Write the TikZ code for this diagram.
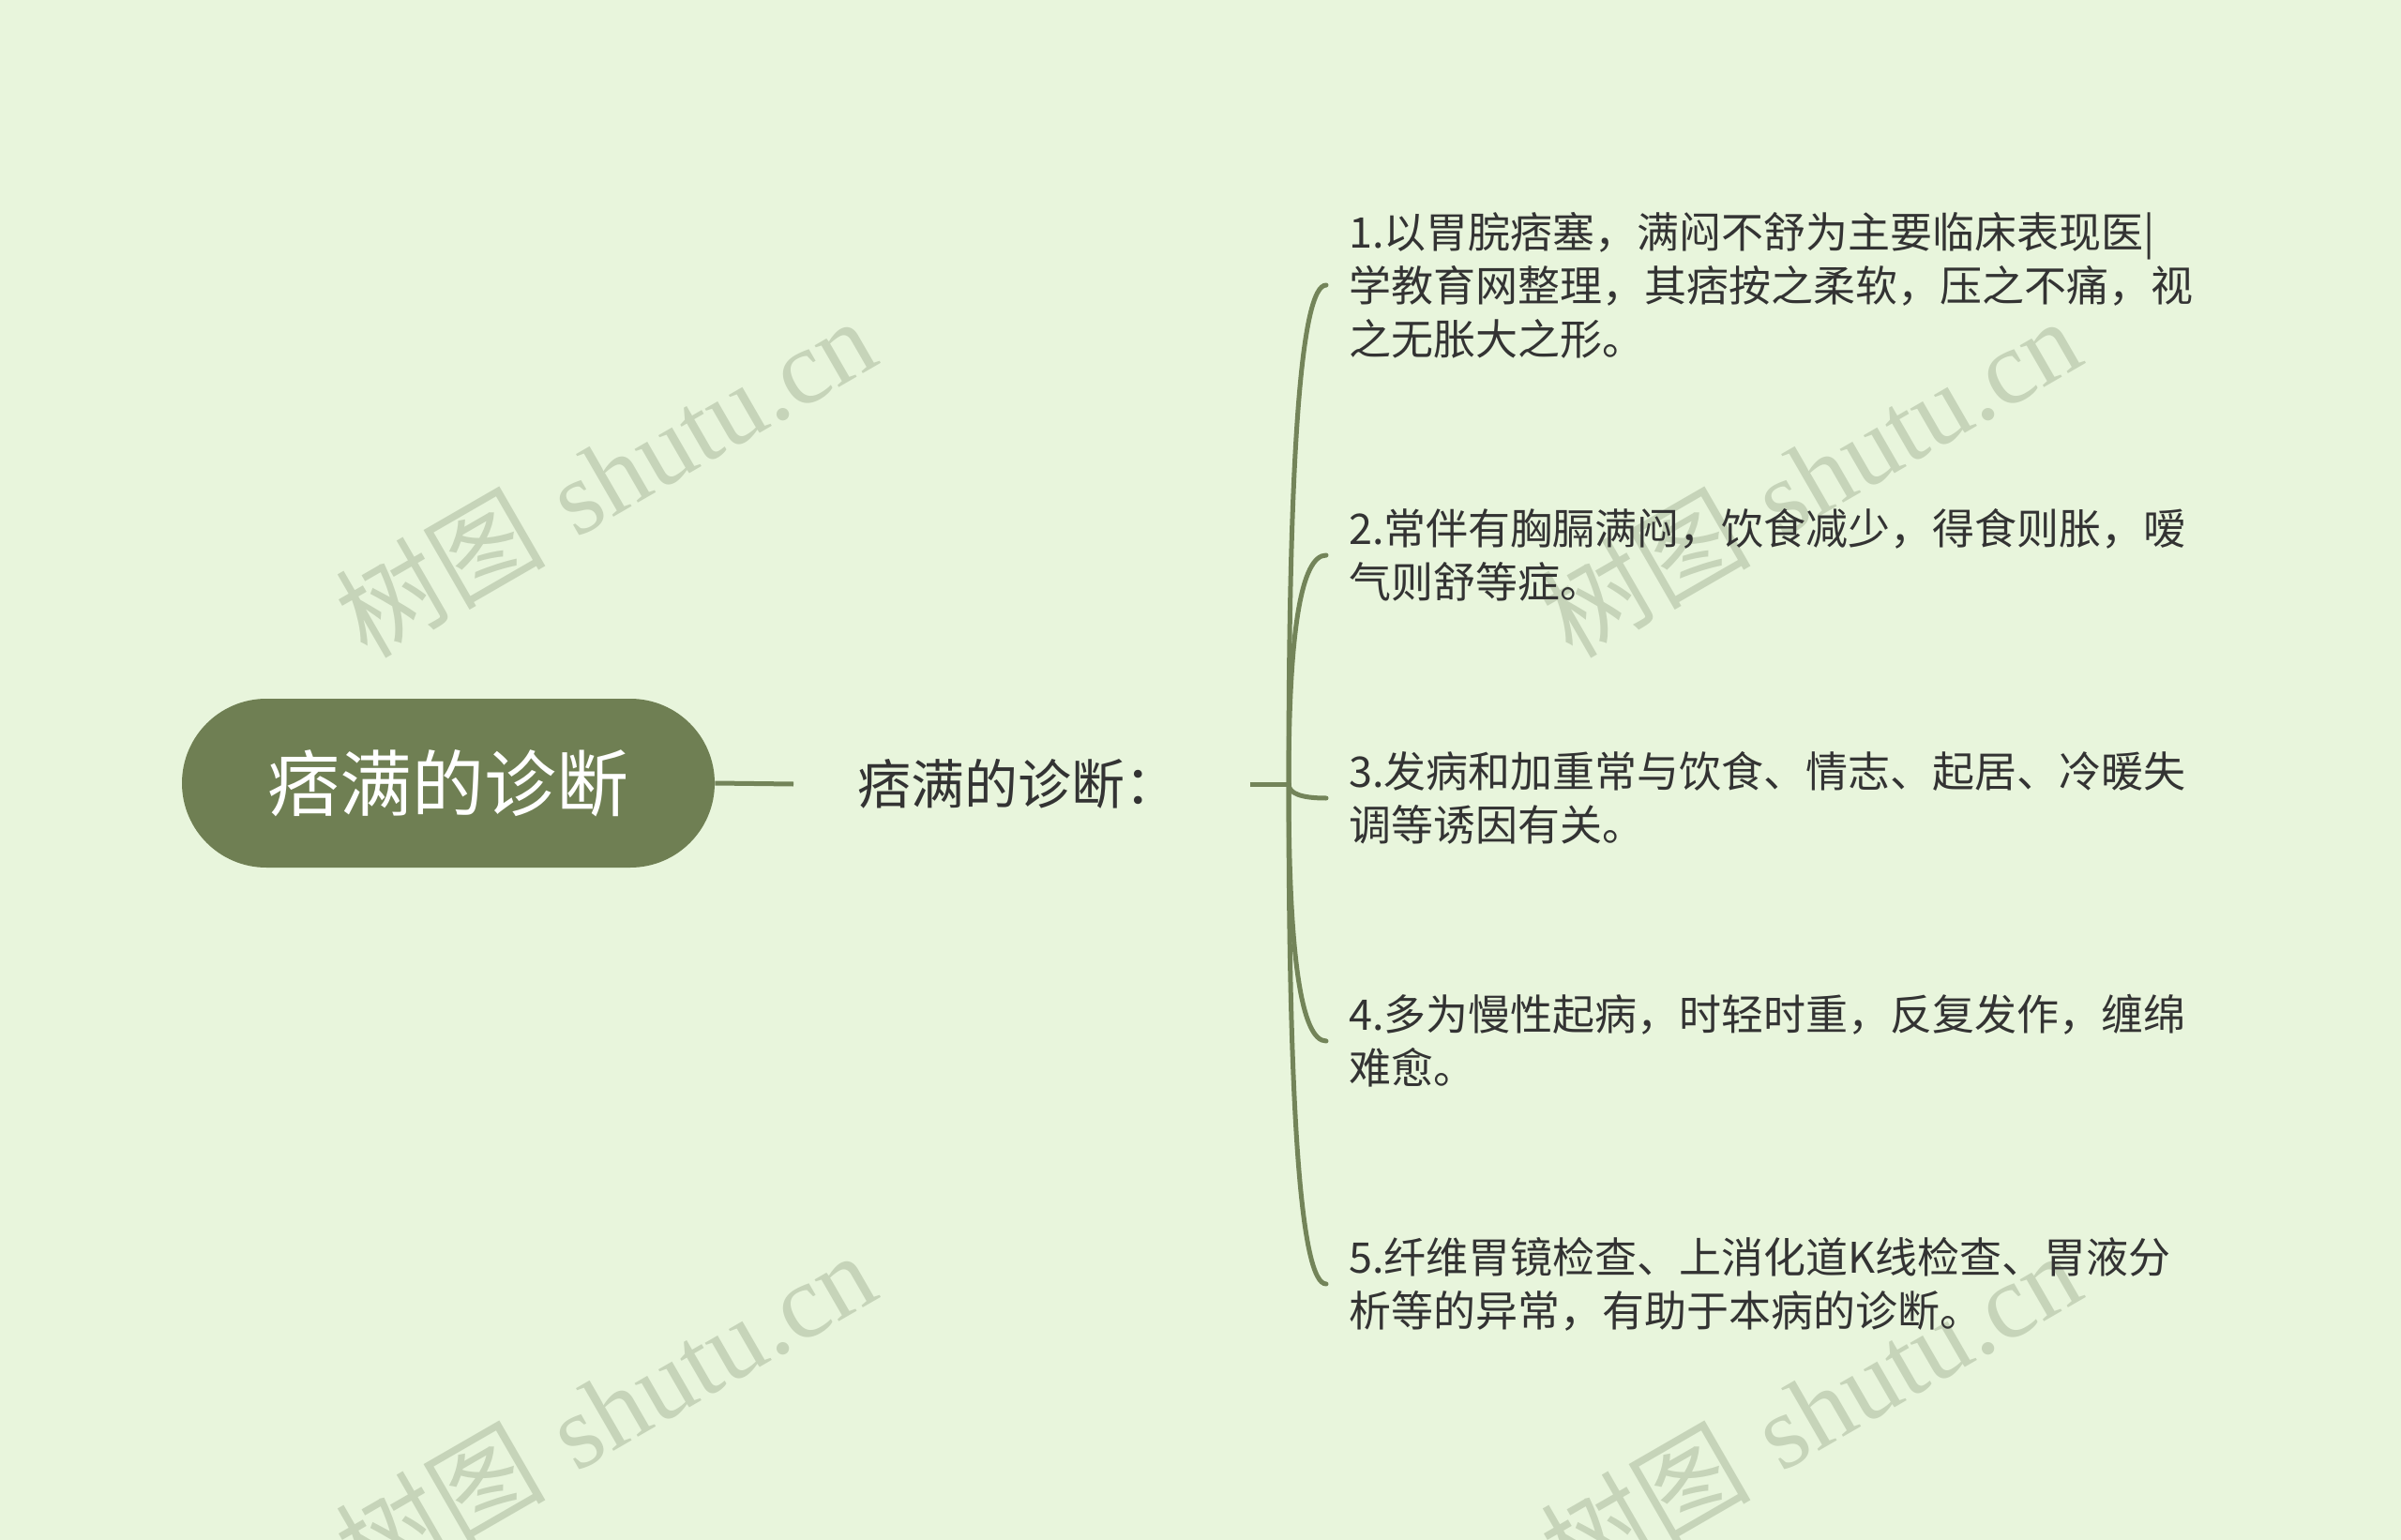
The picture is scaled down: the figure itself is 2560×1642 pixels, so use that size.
\documentclass[tikz,border=0pt]{standalone}
\usepackage{fontspec}
\usetikzlibrary{calc}
\newfontfamily\cjk{Noto Sans CJK SC}
\newfontfamily\wmlatin{Liberation Serif}
\definecolor{bgc}{HTML}{E8F5DC}
\definecolor{rootc}{HTML}{6F7F53}
\definecolor{linec}{HTML}{738459}
\definecolor{txtc}{HTML}{333333}
\definecolor{wmc}{HTML}{C6D4B9}
\tikzset{
  rootbox/.style={fill=rootc, draw=none, rounded corners=45pt, minimum width=284pt, minimum height=90pt, inner sep=0pt, text=white, font=\cjk\fontsize{38.5}{44}\selectfont},
  subbox/.style={draw=none, inner sep=0pt, text=txtc, font=\cjk\fontsize{28.5}{32}\selectfont},
  itembox/.style={draw=none, inner xsep=12pt, inner ysep=0pt, anchor=west, align=left, text=txtc, font=\cjk\fontsize{22.5}{28.5}\selectfont},
  conn/.style={draw=linec, line width=2.5pt},
  branch/.style={draw=linec, line width=2.5pt, line cap=round},
  wmark/.style={text=wmc, rotate=30, inner sep=0pt, font=\fontsize{56}{60}\selectfont}
}
\begin{document}
\begin{tikzpicture}[x=0.5pt, y=-0.5pt]
\fill[bgc] (0,0) rectangle (2560,1642);
\useasboundingbox (0,0) rectangle (2560,1642);
% watermarks
\node[wmark] (wm1) at (645,508) {{\cjk 树图} {\wmlatin shutu.cn}};
\node[wmark] (wm2) at (1930,508) {{\cjk 树图} {\wmlatin shutu.cn}};
\node[wmark] (wm3) at (645,1504) {{\cjk 树图} {\wmlatin shutu.cn}};
\node[wmark] (wm4) at (1930,1504) {{\cjk 树图} {\wmlatin shutu.cn}};
% nodes
\node[rootbox] (root) at (478,835) {痞满的诊断};
\node[subbox, anchor=west] (sub) at (846,836) {\makebox[243pt][l]{\hspace{34pt}痞满的诊断：}};
\coordinate (j) at (1374,836);
\node[itembox] (i1) at (1414,304) {1.以胃脘痞塞，满闷不舒为主要临床表现医|\\学教育网整理，其痞按之柔软，压之不痛，视\\之无胀大之形。};
\node[itembox] (i2) at (1414,592) {2.常伴有胸膈满闷，饮食减少，得食则胀，嗳\\气则舒等症。};
\node[itembox] (i3) at (1414,851) {3.发病和加重常与饮食、情志、起居、冷暖失\\调等诱因有关。};
\node[itembox] (i4) at (1414,1110) {4.多为慢性起病，时轻时重，反复发作，缠绵\\难愈。};
\node[itembox] (i5) at (1414,1369) {5.纤维胃镜检查、上消化道K线检查、胃液分\\析等的异常，有助于本病的诊断。};
% connectors
\draw[conn] (root.east) -- (sub.west);
\draw[conn] (sub.east) -- (j);
\foreach \i in {1,...,5}{
  \coordinate (k\i) at (j |- i\i.west);
  \draw[branch] (j) .. controls ($(j)!0.667!(k\i)$) and ($(i\i.west)!0.667!(k\i)$) .. (i\i.west);
}
\end{tikzpicture}
\end{document}
